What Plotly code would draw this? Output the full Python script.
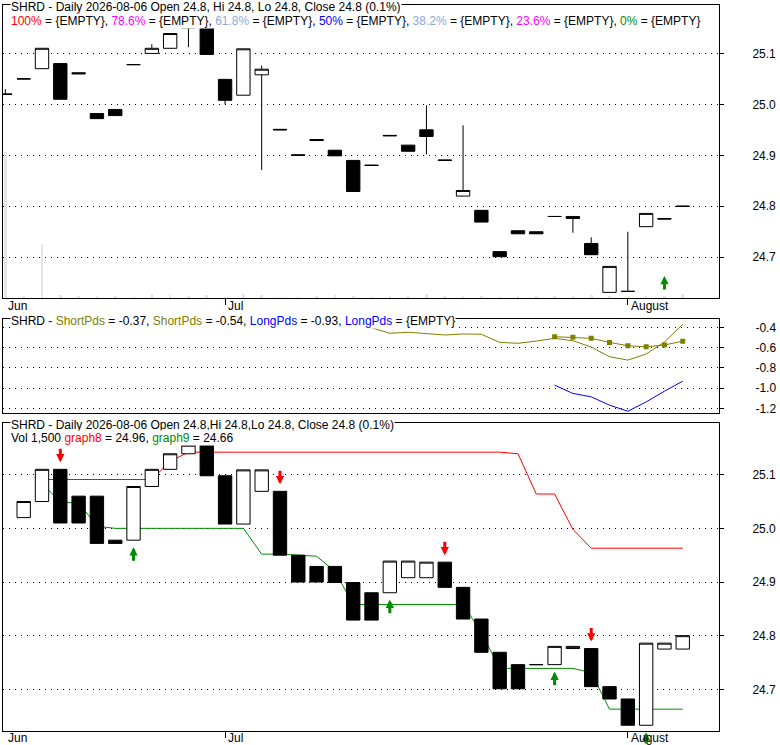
import pandas as pd
import plotly.graph_objects as go

# %%
# trading days on the chart (Juneteenth and Jul 3 are market holidays)
dates = [d for d in pd.bdate_range("2026-06-12", "2026-08-06")
         if d.strftime("%m-%d") not in ("06-19", "07-03")]

opens = [25.02, 25.05, 25.07, 25.08, 25.062, 24.982, 24.99, 25.078, 25.10, 25.11,
         25.15, 25.165, 25.049, 25.018, 25.058, 24.951, 24.901, 24.931, 24.91, 24.89,
         24.881, 24.938, 24.92, 24.95, 24.891, 24.82, 24.792, 24.711, 24.752, 24.75,
         24.78, 24.78, 24.727, 24.631, 24.633, 24.76, 24.776, 24.8]
highs = [25.03, 25.05, 25.11, 25.08, 25.062, 24.982, 24.99, 25.078, 25.118, 25.139,
         25.158, 25.17, 25.05, 25.109, 25.076, 24.951, 24.901, 24.931, 24.91, 24.89,
         24.881, 24.939, 24.92, 24.998, 24.891, 24.959, 24.792, 24.711, 24.752, 24.75,
         24.78, 24.78, 24.739, 24.682, 24.75, 24.786, 24.776, 24.8]
lows = [25.02, 25.05, 25.07, 25.01, 25.06, 24.972, 24.978, 25.078, 25.10, 25.11,
        25.112, 25.098, 25.0, 25.018, 24.871, 24.95, 24.9, 24.929, 24.899, 24.829,
        24.88, 24.938, 24.908, 24.902, 24.89, 24.82, 24.769, 24.701, 24.746, 24.746,
        24.78, 24.748, 24.705, 24.631, 24.633, 24.76, 24.775, 24.8]
closes = [25.02, 25.05, 25.11, 25.01, 25.06, 24.972, 24.978, 25.078, 25.11, 25.139,
          25.155, 25.098, 25.008, 25.109, 25.069, 24.95, 24.9, 24.929, 24.899, 24.829,
          24.88, 24.939, 24.908, 24.937, 24.89, 24.831, 24.769, 24.701, 24.746, 24.746,
          24.78, 24.776, 24.705, 24.682, 24.633, 24.786, 24.775, 24.8]
volume = [50000, 600, 18400, 900, 400, 500, 800, 300, 1300, 900,
          800, 900, 300, 1400, 1100, 300, 200, 400, 1000, 500,
          300, 600, 400, 1200, 500, 700, 400, 300, 500, 400,
          600, 800, 1100, 500, 700, 400, 600, 1500]

# lower panel bodies run close-to-close, colour (1 = hollow)
p3_white = [1, 1, 0, 0, 0, 0, 1, 1, 1, 1,
            0, 0, 1, 1, 0, 0, 0, 0, 0, 0,
            1, 1, 1, 0, 0, 0, 0, 0, 0, 1,
            1, 0, 0, 0, 1, 1, 1]

graph8 = [None, None, 25.091, 25.091, 25.091, 25.091, 25.091, 25.091, 25.091, 25.125,
          25.142, 25.142, 25.142, 25.142, 25.142, 25.142, 25.142, 25.142, 25.142, 25.142,
          25.142, 25.142, 25.142, 25.142, 25.142, 25.142, 25.142, 25.142, 25.139, 25.064,
          25.064, 24.998, 24.963, 24.963, 24.963, 24.963, 24.963, 24.963]
graph9 = [None, None, 25.085, 25.048, 25.048, 25.004, 25.0, 25.0, 25.0, 25.0,
          25.0, 25.0, 25.0, 25.0, 24.952, 24.952, 24.95, 24.948, 24.92, 24.858,
          24.858, 24.858, 24.858, 24.858, 24.858, 24.858, 24.806, 24.739, 24.739, 24.739,
          24.739, 24.739, 24.731, 24.663, 24.663, 24.663, 24.663, 24.663]

short1 = [None] * 20 + [-0.404, -0.459, -0.449, -0.461, -0.476, -0.466, -0.469, -0.549, -0.558,
                        -0.536, -0.509, -0.533, -0.595, -0.691, -0.724, -0.664, -0.546, -0.37]
short2 = [None] * 30 + [-0.493, -0.499, -0.509, -0.549, -0.582, -0.592, -0.575, -0.537]
long1 = [None] * 30 + [-0.971, -1.053, -1.087, -1.169, -1.229, -1.137, -1.031, -0.932]

sell_idx = [3, 11, 15, 24, 32]
buy_idx = [7, 21, 30, 35]
buy_idx_top = [36]

price_ticks = [24.7, 24.8, 24.9, 25.0, 25.1]
pds_ticks = [-1.2, -1.0, -0.8, -0.6, -0.4]
pds_labels = ["-1.2", "-1.0", "-0.8", "-0.6", "-0.4"]

# %%
idx = list(range(len(dates)))
month_pos = [0] + [i for i in idx[1:] if dates[i].month != dates[i - 1].month]
month_names = ["Jun", "Jul", "August"]

# lower panel candles
p3_x = idx[1:]
p3_lo = [min(a, b) for a, b in zip(closes[:-1], closes[1:])]
p3_hi = [max(a, b) for a, b in zip(closes[:-1], closes[1:])]
p3_open = [lo if w else hi for lo, hi, w in zip(p3_lo, p3_hi, p3_white)]
p3_close = [hi if w else lo for lo, hi, w in zip(p3_lo, p3_hi, p3_white)]

# %%
W, H = 780, 745
ML, MR, MT, MB = 3, 61, 5, 14
PW, PH = W - ML - MR, H - MT - MB
FONT = "Liberation Sans, Arial, sans-serif"
RED, GREEN, OLIVE, BLUE = "#ff0000", "#008c00", "#808000", "#0000ff"


def py(y):
    return (H - MB - y) / PH


def px(x):
    return (x - ML) / PW


candle_style = dict(
    increasing=dict(line=dict(color="black", width=1), fillcolor="white"),
    decreasing=dict(line=dict(color="black", width=1), fillcolor="black"),
    whiskerwidth=0, showlegend=False, hoverinfo="skip")

fig = go.Figure()

# top panel
fig.add_trace(go.Bar(x=idx, y=volume, width=0.14, marker=dict(color="#e6e6e6", line_width=0),
                     xaxis="x", yaxis="y", showlegend=False, hoverinfo="skip"))
fig.add_trace(go.Candlestick(x=idx, open=opens, high=highs, low=lows, close=closes,
                             xaxis="x", yaxis="y4", **candle_style))

# middle panel
fig.add_trace(go.Scatter(x=idx, y=short1, mode="lines", line=dict(color=OLIVE, width=1),
                         xaxis="x2", yaxis="y2", showlegend=False, hoverinfo="skip"))
fig.add_trace(go.Scatter(x=idx, y=short2, mode="lines+markers", line=dict(color=OLIVE, width=1),
                         marker=dict(symbol="square", size=5, color=OLIVE),
                         xaxis="x2", yaxis="y2", showlegend=False, hoverinfo="skip"))
fig.add_trace(go.Scatter(x=idx, y=long1, mode="lines", line=dict(color=BLUE, width=1),
                         xaxis="x2", yaxis="y2", showlegend=False, hoverinfo="skip"))

# bottom panel
fig.add_trace(go.Scatter(x=idx, y=graph8, mode="lines", line=dict(color=RED, width=1),
                         xaxis="x3", yaxis="y3", showlegend=False, hoverinfo="skip"))
fig.add_trace(go.Scatter(x=idx, y=graph9, mode="lines", line=dict(color=GREEN, width=1),
                         xaxis="x3", yaxis="y3", showlegend=False, hoverinfo="skip"))
fig.add_trace(go.Candlestick(x=p3_x, open=p3_open, high=p3_hi, low=p3_lo, close=p3_close,
                             xaxis="x3", yaxis="y5", **candle_style))

# %%
x_range = [-0.13, 38.98]
p1_range = [24.620, 25.195]
p3_range = [24.6223, 25.1958]
frame = dict(showline=True, mirror=True, linecolor="black", linewidth=1, zeroline=False,
             automargin=False)
ygrid = dict(showgrid=True, gridcolor="black", gridwidth=1, griddash="1px,5px")
ytick = dict(side="right", ticks="outside", ticklen=4, tickcolor="black",
             tickfont=dict(family=FONT, size=12, color="black"))

fig.update_layout(
    width=W, height=H,
    margin=dict(l=ML, r=MR, t=MT, b=MB),
    paper_bgcolor="white", plot_bgcolor="white",
    showlegend=False, boxgap=0.27, boxgroupgap=0, bargap=0,
    font=dict(family=FONT, size=12, color="black"),
    xaxis=dict(domain=[0, 1], range=x_range, anchor="y", tickvals=month_pos[1:],
               ticks="outside", ticklen=6, tickcolor="black", showticklabels=False,
               showgrid=False, rangeslider=dict(visible=False), **frame),
    xaxis2=dict(domain=[0, 1], range=x_range, anchor="y2", showticklabels=False,
                ticks="", showgrid=False, **frame),
    xaxis3=dict(domain=[0, 1], range=x_range, anchor="y3", tickvals=month_pos[1:],
                ticks="outside", ticklen=6, tickcolor="black", showticklabels=False,
                showgrid=False, rangeslider=dict(visible=False), **frame),
    yaxis=dict(domain=[py(298), 1], range=[0, 100000], visible=False, automargin=False),
    yaxis4=dict(overlaying="y", anchor="x", range=p1_range, tickvals=price_ticks,
                tickformat=".1f", ticklabelstandoff=26, **ytick, **ygrid, **frame),
    yaxis2=dict(domain=[py(412.7), py(319.3)], anchor="x2", range=[-1.2435, -0.321],
                tickvals=pds_ticks, ticktext=pds_labels, ticklabelstandoff=29,
                **ytick, **ygrid, **frame),
    yaxis3=dict(domain=[0, py(423.3)], anchor="x3", range=p3_range, tickvals=price_ticks,
                tickformat=".1f", ticklabelstandoff=26, **ytick, **ygrid, **frame),
    yaxis5=dict(overlaying="y3", anchor="x3", range=p3_range, visible=False, automargin=False),
)

# %%
annotations = []
arrow = dict(text="", showarrow=True, arrowhead=2, arrowwidth=3, arrowsize=0.55, ax=0)

for i in sell_idx:
    annotations.append(dict(x=i, y=max(closes[i - 1], closes[i]), xref="x3", yref="y3",
                            ay=-22, standoff=7, arrowcolor=RED, **arrow))
for i in buy_idx:
    annotations.append(dict(x=i, y=min(closes[i - 1], closes[i]), xref="x3", yref="y3",
                            ay=22, standoff=7, arrowcolor=GREEN, **arrow))
for i in buy_idx_top:
    annotations.append(dict(x=i, y=graph9[i], xref="x", yref="y4",
                            ay=15, standoff=0, arrowcolor=GREEN, **arrow))

# month labels under top and bottom panels
for pos, name in zip(month_pos, month_names):
    for xr, yy in (("x", 306), ("x3", 737.5)):
        annotations.append(dict(x=pos, y=py(yy), xref=xr, yref="paper", text=name,
                                showarrow=False, xanchor="left", yanchor="middle", xshift=1,
                                font=dict(family=FONT, size=12, color="black")))


def span(txt, color):
    return f'<span style="color:{color}">{txt}</span>'


pct = (closes[-1] / closes[-2] - 1) * 100
day = dates[-1].strftime("%Y-%m-%d")
fib = [("100%", RED), ("78.6%", "#ff00ff"), ("61.8%", "#90a8d8"), ("50%", BLUE),
       ("38.2%", "#90a8d8"), ("23.6%", "#ff00ff"), ("0%", GREEN)]

legend_lines = [
    (6.5, f"SHRD - Daily {day} Open {opens[-1]:g}, Hi {highs[-1]:g}, Lo {lows[-1]:g}, "
          f"Close {closes[-1]:g} ({pct:.1f}%)"),
    (20.5, ", ".join(f"{span(n, c)} = {{EMPTY}}" for n, c in fib)),
    (321, f"SHRD - {span('ShortPds', OLIVE)} = {short1[-1]:.2f}, {span('ShortPds', OLIVE)} = "
          f"{short2[-1]:.2f}, {span('LongPds', BLUE)} = {long1[-1]:.2f}, "
          f"{span('LongPds', BLUE)} = {{EMPTY}}"),
    (424.5, f"SHRD - Daily {day} Open {opens[-1]:g},Hi {highs[-1]:g},Lo {lows[-1]:g}, "
            f"Close {closes[-1]:g} ({pct:.1f}%)"),
    (438, f"Vol {volume[-1]:,} {span('graph8', RED)} = {graph8[-1]:.2f}, "
          f"{span('graph9', GREEN)} = {graph9[-1]:.2f}"),
]
for yy, txt in legend_lines:
    annotations.append(dict(x=px(10), y=py(yy), xref="paper", yref="paper", text=txt,
                            showarrow=False, xanchor="left", yanchor="middle",
                            bgcolor="white", borderpad=0,
                            font=dict(family=FONT, size=12, color="black")))

fig.update_layout(annotations=annotations)

# page body margin would push the figure 8px off its spot
fig.write_html("out.html", config={"displayModeBar": False},
               post_script="document.body.style.margin = '0';")
